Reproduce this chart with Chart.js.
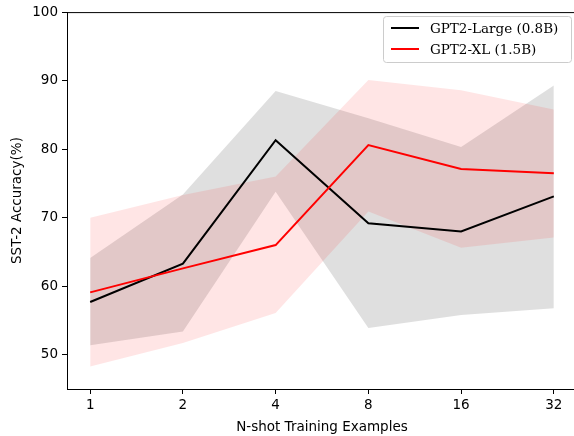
<!DOCTYPE html>
<html>
<head>
<meta charset="utf-8">
<script src="https://cdn.jsdelivr.net/npm/chart.js@4"></script>
<style>
html,body{margin:0;padding:0;background:#fff;overflow:hidden;}
#wrap{width:580px;height:436px;}
</style>
</head>
<body>
<div id="wrap"><canvas id="c" width="580" height="436"></canvas></div>
<script>
const xLabels = ['1','2','4','8','16','32'];
const yTicks = [50,60,70,80,90,100];
const seriesNames = ['GPT2-Large (0.8B)','GPT2-XL (1.5B)'];
const largeMean = [57.7,63.3,81.3,69.2,68.0,73.1];
const largeUpper = [64.1,73.4,88.5,84.5,80.3,89.3];
const largeLower = [51.4,53.4,73.8,53.9,55.8,56.8];
const xlMean = [59.1,62.6,66.0,80.6,77.1,76.5];
const xlUpper = [70.0,73.3,76.0,90.1,88.6,85.8];
const xlLower = [48.3,51.7,56.1,70.9,65.6,67.1];

const pts = arr => arr.map((v,i)=>({x:i,y:v}));
const band = (data, color, fill, order) => ({data:pts(data), borderWidth:0, pointRadius:0, backgroundColor:color, borderColor:'transparent', fill:fill, tension:0, order:order});

const legendPlugin = {
  id:'mplLegend',
  afterDraw(chart){
    const ctx = chart.ctx, ca = chart.chartArea;
    ctx.save();
    // top spine
    ctx.strokeStyle = '#000'; ctx.lineWidth = 1;
    ctx.beginPath(); ctx.moveTo(ca.left, ca.top+0.5); ctx.lineTo(ca.right, ca.top+0.5); ctx.stroke();
    // legend box
    const bx=383.5, by=16.5, bw=188, bh=46, r=3;
    ctx.beginPath();
    ctx.moveTo(bx+r,by); ctx.lineTo(bx+bw-r,by); ctx.quadraticCurveTo(bx+bw,by,bx+bw,by+r);
    ctx.lineTo(bx+bw,by+bh-r); ctx.quadraticCurveTo(bx+bw,by+bh,bx+bw-r,by+bh);
    ctx.lineTo(bx+r,by+bh); ctx.quadraticCurveTo(bx,by+bh,bx,by+bh-r);
    ctx.lineTo(bx,by+r); ctx.quadraticCurveTo(bx,by,bx+r,by); ctx.closePath();
    ctx.fillStyle='rgba(255,255,255,0.8)'; ctx.fill();
    ctx.strokeStyle='#cccccc'; ctx.lineWidth=1; ctx.stroke();
    const lines = [chart.data.datasets[4], chart.data.datasets[5]];
    ctx.font = '13.5px "DejaVu Serif"'; ctx.textBaseline='middle'; ctx.fillStyle='#000';
    lines.forEach((ds,i)=>{
      const y = 28 + i*21;
      ctx.strokeStyle = ds.borderColor; ctx.lineWidth = 2;
      ctx.beginPath(); ctx.moveTo(391,y); ctx.lineTo(419,y); ctx.stroke();
      ctx.fillStyle='#000';
      ctx.fillText(ds.label, 430, y+1);
    });
    ctx.restore();
  }
};

new Chart(document.getElementById('c'), {
  type:'line',
  data:{
    datasets:[
      band(largeUpper,'rgba(128,128,128,0.25)',false,4),
      band(largeLower,'rgba(128,128,128,0.25)','-1',4),
      band(xlUpper,'rgba(255,0,0,0.1)',false,3),
      band(xlLower,'rgba(255,0,0,0.1)','-1',3),
      {label:seriesNames[0], data:pts(largeMean), borderColor:'#000000', borderWidth:2, pointRadius:0, fill:false, tension:0, order:1},
      {label:seriesNames[1], data:pts(xlMean), borderColor:'#ff0000', borderWidth:2, pointRadius:0, fill:false, tension:0, order:0}
    ]
  },
  options:{
    responsive:false, animation:false,
    layout:{padding:{top:10,right:3,left:0,bottom:0}},
    plugins:{legend:{display:false}, tooltip:{enabled:false}, filler:{drawTime:'beforeDatasetsDraw'}},
    scales:{
      x:{type:'linear', min:-0.25, max:5.25,
        afterBuildTicks(axis){ axis.ticks = xLabels.map((_,i)=>({value:i})); },
        afterFit(axis){ axis.height = 47; },
        ticks:{callback:(v)=>xLabels[v], color:'#000', font:{family:'DejaVu Sans', size:13.5}, padding:3, maxRotation:0, autoSkip:false},
        grid:{drawOnChartArea:false, drawTicks:true, tickLength:5, tickColor:'#000'},
        border:{display:true, color:'#000', width:1},
        title:{display:true, text:'N-shot Training Examples', color:'#000', font:{family:'DejaVu Sans', size:13.5}, padding:{top:1,bottom:0}}
      },
      y:{min:45, max:100,
        afterBuildTicks(axis){ axis.ticks = yTicks.map(v=>({value:v})); },
        afterFit(axis){ axis.width = 67; },
        ticks:{color:'#000', font:{family:'DejaVu Sans', size:13.5}, padding:4},
        grid:{drawOnChartArea:false, drawTicks:true, tickLength:5, tickColor:'#000'},
        border:{display:true, color:'#000', width:1},
        title:{display:true, text:'SST-2 Accuracy(%)', color:'#000', font:{family:'DejaVu Sans', size:13.5}, padding:{top:9,bottom:4}}
      }
    }
  },
  plugins:[legendPlugin]
});
</script>
</body>
</html>
